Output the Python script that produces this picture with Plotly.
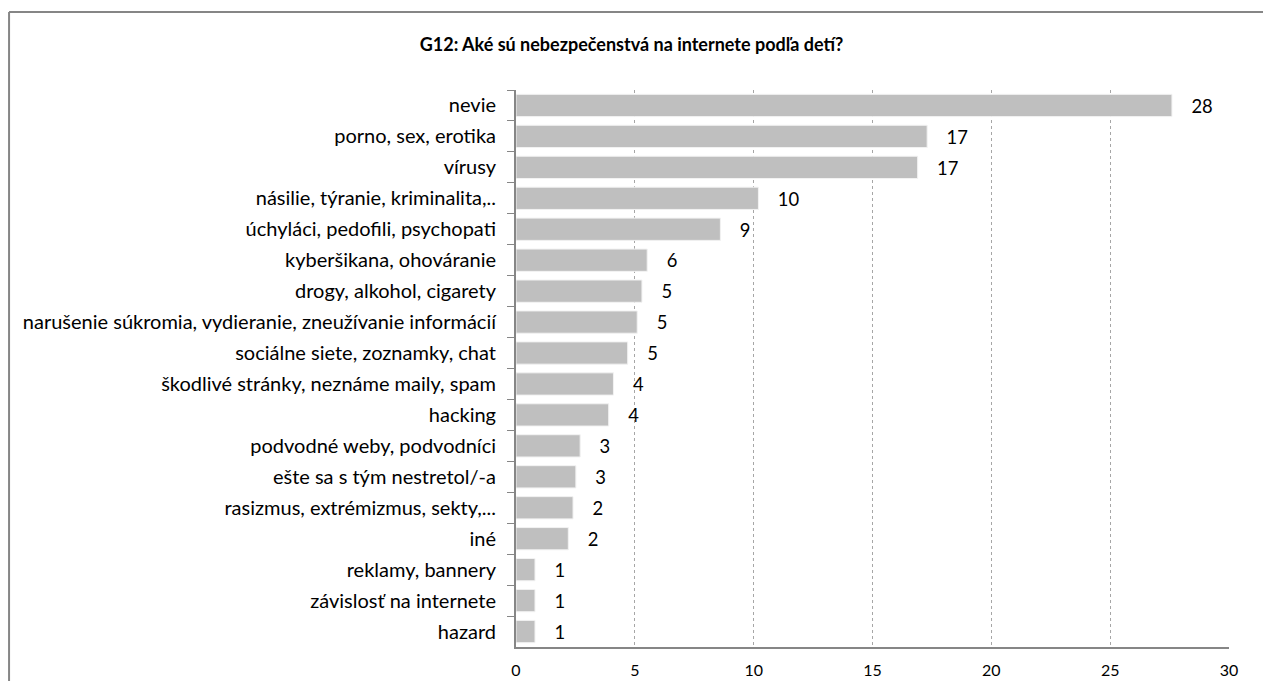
import plotly.graph_objects as go

# G12 - odpovede deti (v %)
categories = [
    "nevie",
    "porno, sex, erotika",
    "vírusy",
    "násilie, týranie, kriminalita,..",
    "úchyláci, pedofili, psychopati",
    "kyberšikana, ohováranie",
    "drogy, alkohol, cigarety",
    "narušenie súkromia, vydieranie, zneužívanie informácií",
    "sociálne siete, zoznamky, chat",
    "škodlivé stránky, neznáme maily, spam",
    "hacking",
    "podvodné weby, podvodníci",
    "ešte sa s tým nestretol/-a",
    "rasizmus, extrémizmus, sekty,...",
    "iné",
    "reklamy, bannery",
    "závislosť na internete",
    "hazard",
]
values = [27.6, 17.3, 16.9, 10.2, 8.6, 5.52, 5.3, 5.1, 4.7, 4.1, 3.9, 2.7, 2.52, 2.4, 2.2, 0.8, 0.8, 0.8]
x_ticks = [0, 5, 10, 15, 20, 25, 30]

FONT = "Lato"
GREY = "#868686"

# stranka ma 8px okraj, preto je graf o 8px mensi
W, H = 1263, 673

fig = go.Figure(go.Bar(
    x=values,
    y=categories,
    orientation="h",
    marker=dict(color="#bfbfbf", line=dict(color="#f2f2f2", width=1)),
    texttemplate="\u00a0\u00a0\u00a0\u2009%{x:.0f}",
    textposition="outside",
    textfont=dict(family=FONT, size=19, color="black"),
    cliponaxis=False,
    hoverinfo="skip",
))

fig.update_layout(
    width=W, height=H, autosize=False,
    paper_bgcolor="white", plot_bgcolor="white",
    margin=dict(l=508, r=42, t=82, b=34, autoexpand=False),
    bargap=0.28,
    showlegend=False,
    title=dict(
        text="<b>G12: Aké sú nebezpečenstvá na internete podľa detí?</b>",
        font=dict(family=FONT, size=18, color="black"),
        x=623.5 / W, xref="container", xanchor="center",
        y=1 - 37 / H, yref="container", yanchor="middle",
    ),
    font=dict(family=FONT, size=19, color="black"),
)

fig.update_xaxes(
    range=[0, 30], tickvals=x_ticks,
    showgrid=True, gridcolor="#a6a6a6", griddash="dot", gridwidth=1,
    zeroline=False, automargin=False,
    showline=True, linecolor=GREY, linewidth=2,
    ticks="", ticklabelstandoff=8,
    tickfont=dict(family=FONT, size=16),
)
fig.update_yaxes(
    autorange="reversed", automargin=False,
    showline=True, linecolor=GREY, linewidth=2,
    ticks="outside", ticklen=7, tickcolor=GREY, tickson="boundaries",
    ticklabelstandoff=14,
    tickfont=dict(family=FONT, size=20),
)

# ramcek okolo grafu (horny a lavy okraj)
fig.add_shape(type="line", xref="paper", yref="paper",
              x0=-0.711, x1=1.1, y0=1.14, y1=1.14,
              line=dict(color=GREY, width=2))
fig.add_shape(type="line", xref="paper", yref="paper",
              x0=-0.711, x1=-0.711, y0=1.14, y1=-0.2,
              line=dict(color=GREY, width=2))

fig.write_html("out.html")
